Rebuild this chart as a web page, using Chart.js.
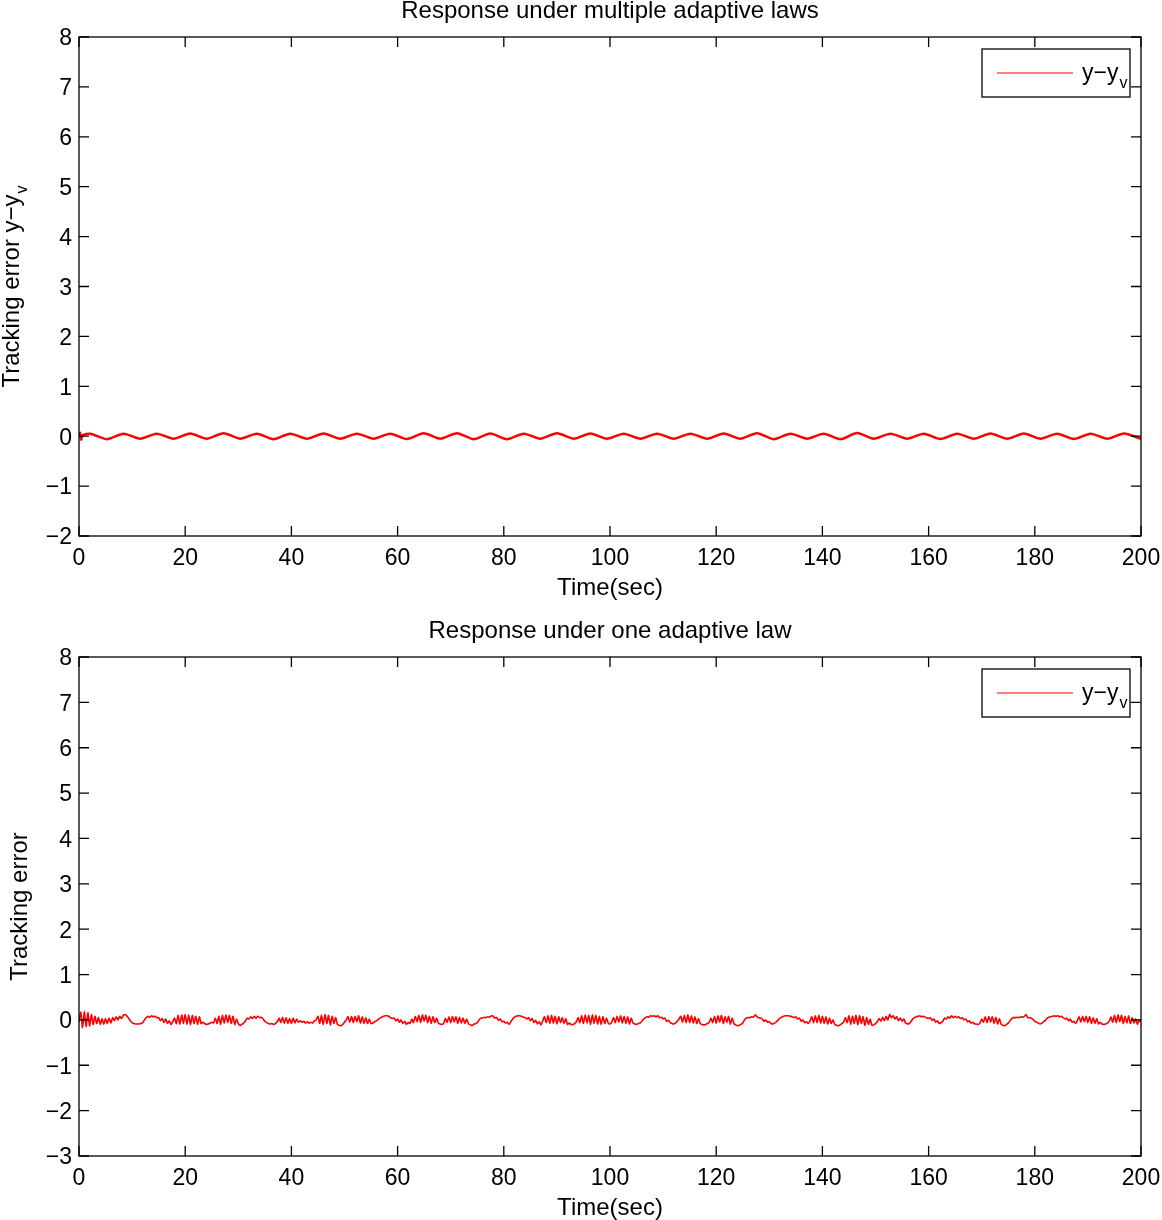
<!DOCTYPE html>
<html>
<head>
<meta charset="utf-8">
<script src="https://cdn.jsdelivr.net/npm/chart.js@4/dist/chart.umd.min.js"></script>
<style>
    body { margin: 0; background: #fff; }
    canvas { position: absolute; left: 0; }
    #chart-top { top: 0; }
    #chart-bottom { top: 610px; }
</style>
</head>
<body>
<canvas id="chart-top" width="1162" height="610"></canvas>
<canvas id="chart-bottom" width="1162" height="610"></canvas>
<script>
    const fontFamily = "'Liberation Sans', Arial, Helvetica, sans-serif";

    const xTicks = [0, 20, 40, 60, 80, 100, 120, 140, 160, 180, 200];
    const topYTicks = [-2, -1, 0, 1, 2, 3, 4, 5, 6, 7, 8];
    const bottomYTicks = [-3, -2, -1, 0, 1, 2, 3, 4, 5, 6, 7, 8];

    const topTitle = 'Response under multiple adaptive laws';
    const bottomTitle = 'Response under one adaptive law';
    const xTitle = 'Time(sec)';
    const seriesLabel = 'y\u2212y';
    const seriesSub = 'v';

    // multiple adaptive laws: turning points of the error wave
    const topTime = [0, 0.2, 0.4, 0.7,
        2.1, 5.24, 8.38, 11.52, 14.66, 17.8, 20.94, 24.08, 27.22, 30.36,
        33.5, 36.64, 39.78, 42.92, 46.06, 49.2, 52.34, 55.48, 58.62, 61.76,
        64.9, 68.04, 71.18, 74.32, 77.46, 80.6, 83.74, 86.88, 90.02, 93.16,
        96.3, 99.44, 102.58, 105.72, 108.86, 112, 115.14, 118.28, 121.42, 124.56,
        127.7, 130.84, 133.98, 137.12, 140.26, 143.4, 146.54, 149.68, 152.82, 155.96,
        159.1, 162.24, 165.38, 168.52, 171.66, 174.8, 177.94, 181.08, 184.22, 187.36,
        190.5, 193.64, 196.78, 199.92, 200];
    const topErr = [0, 0.07, -0.07, 0.02,
        0.05, -0.06, 0.05, -0.05, 0.05, -0.05, 0.055, -0.05, 0.06, -0.05,
        0.05, -0.06, 0.05, -0.05, 0.055, -0.05, 0.05, -0.05, 0.05, -0.055,
        0.06, -0.05, 0.06, -0.06, 0.055, -0.06, 0.05, -0.05, 0.06, -0.05,
        0.055, -0.05, 0.05, -0.05, 0.05, -0.05, 0.05, -0.05, 0.055, -0.05,
        0.06, -0.06, 0.05, -0.05, 0.05, -0.06, 0.065, -0.05, 0.05, -0.05,
        0.05, -0.055, 0.05, -0.05, 0.055, -0.05, 0.055, -0.05, 0.05, -0.055,
        0.05, -0.05, 0.055, -0.05, -0.03];

    // one adaptive law: sampled every 1/3 s from 0 to 200 s
    const bottomEnd = 200;
    const bottomErr = [
        -0.05, 0.17, -0.17, 0.18, -0.15, 0.16, -0.13, 0.12, -0.1, 0.08, -0.08, 0.05, -0.1, 0.03, -0.1, 0.03, -0.08, 0.04, -0.07, 0.05, -0.02, 0.07, 0.0, 0.08, 0.03, 0.1, 0.12, 0.09, 0.04, -0.02,
        -0.06, -0.08, -0.09, -0.09, -0.09, -0.08, -0.06, 0.0, 0.05, 0.08, 0.06, 0.09, 0.07, 0.08, 0.05, 0.05, -0.02, 0.03, -0.06, 0.02, -0.08, -0.02, -0.1, -0.04, 0.04, -0.08, 0.1, -0.1, 0.11, -0.08,
        0.12, -0.1, 0.11, -0.11, 0.1, -0.08, 0.08, -0.1, 0.07, -0.08, -0.05, -0.08, -0.1, -0.09, -0.07, -0.05, -0.07, 0.04, -0.08, 0.08, -0.1, 0.1, -0.07, 0.11, -0.06, 0.1, -0.08, 0.08, -0.1, 0.02,
        -0.08, -0.12, -0.1, -0.07, -0.03, 0.04, 0.02, 0.07, 0.03, 0.08, 0.04, 0.08, 0.05, 0.06, 0.02, -0.03, -0.06, -0.08, -0.09, -0.08, -0.1, -0.08, -0.04, 0.04, -0.06, 0.06, -0.08, 0.05, -0.08, 0.03,
        -0.08, 0.04, -0.07, 0.02, -0.05, -0.02, -0.05, -0.03, -0.07, -0.04, -0.07, -0.05, -0.07, -0.02, 0.0, 0.08, -0.08, 0.1, -0.1, 0.12, -0.08, 0.1, -0.11, 0.08, -0.08, 0.05, -0.1, -0.12, -0.13, -0.1,
        -0.05, 0.0, 0.07, -0.05, 0.08, -0.06, 0.08, -0.04, 0.09, -0.07, 0.07, -0.08, 0.05, -0.08, 0.02, -0.08, -0.07, -0.04, -0.02, 0.01, 0.04, 0.06, 0.08, 0.09, 0.09, 0.08, 0.05, 0.03, 0.04, -0.02,
        0.02, -0.05, 0.0, -0.08, -0.03, -0.1, -0.05, -0.08, 0.02, -0.06, 0.08, -0.04, 0.1, -0.06, 0.11, -0.03, 0.1, -0.06, 0.08, -0.08, 0.07, -0.06, 0.04, -0.07, -0.09, -0.1, -0.08, 0.03, -0.05, 0.07,
        -0.06, 0.08, -0.05, 0.07, -0.08, 0.06, -0.07, 0.04, -0.08, 0.02, -0.08, -0.11, -0.12, -0.1, -0.08, -0.06, 0.0, 0.04, 0.04, 0.06, 0.05, 0.07, 0.06, 0.09, 0.08, 0.04, 0.05, -0.01, 0.02, -0.04,
        -0.03, -0.07, -0.05, -0.1, -0.04, 0.02, 0.06, 0.08, 0.09, 0.09, 0.08, 0.06, 0.05, 0.02, 0.05, -0.02, 0.03, -0.06, -0.01, -0.09, -0.04, -0.11, -0.02, 0.07, -0.06, 0.09, -0.08, 0.1, -0.07, 0.08,
        -0.09, 0.07, -0.06, 0.05, -0.08, 0.03, -0.1, -0.07, -0.1, -0.1, -0.08, -0.04, 0.05, -0.06, 0.09, -0.08, 0.11, -0.07, 0.1, -0.1, 0.11, -0.08, 0.1, -0.09, 0.08, -0.1, 0.07, -0.08, 0.04, -0.07,
        -0.09, -0.05, 0.05, -0.06, 0.08, -0.05, 0.09, -0.07, 0.08, -0.08, 0.07, -0.09, 0.04, -0.07, -0.09, -0.1, -0.08, -0.07, -0.03, 0.02, 0.05, 0.07, 0.06, 0.09, 0.08, 0.09, 0.07, 0.09, 0.05, 0.06,
        0.02, 0.04, -0.03, -0.01, -0.06, -0.08, -0.09, -0.07, -0.03, 0.02, 0.08, -0.05, 0.1, -0.06, 0.11, -0.06, 0.09, -0.07, 0.07, -0.08, 0.03, -0.08, -0.1, -0.11, -0.1, -0.08, -0.06, 0.04, -0.06, 0.08,
        -0.07, 0.09, -0.05, 0.1, -0.08, 0.07, -0.06, 0.08, -0.09, 0.04, -0.08, -0.11, -0.13, -0.12, -0.1, -0.07, 0.0, 0.04, 0.05, 0.05, 0.07, 0.06, 0.11, 0.07, 0.05, 0.04, 0.02, -0.03, 0.0, -0.05,
        -0.04, -0.08, -0.09, -0.07, -0.04, 0.0, 0.04, 0.06, 0.08, 0.09, 0.09, 0.09, 0.08, 0.07, 0.05, 0.07, 0.02, 0.04, -0.03, 0.0, -0.06, -0.04, -0.08, -0.02, 0.07, -0.06, 0.09, -0.06, 0.1, -0.07,
        0.08, -0.08, 0.07, -0.09, 0.04, -0.08, 0.0, -0.1, -0.12, -0.13, -0.11, -0.08, -0.05, 0.05, -0.06, 0.09, -0.1, 0.08, -0.08, 0.1, -0.11, 0.09, -0.08, 0.07, -0.12, 0.05, -0.1, 0.02, -0.12, -0.11,
        -0.08, -0.04, 0.03, -0.03, 0.06, -0.02, 0.08, 0.0, 0.12, 0.05, 0.09, 0.02, 0.07, -0.02, 0.04, -0.03, 0.02, -0.07, -0.09, -0.08, -0.04, 0.02, 0.05, 0.07, 0.08, 0.09, 0.07, 0.08, 0.06, 0.05,
        0.03, 0.05, -0.01, 0.02, -0.05, -0.02, -0.08, -0.06, -0.03, 0.04, 0.02, 0.07, 0.04, 0.09, 0.05, 0.08, 0.05, 0.07, 0.03, 0.05, 0.0, 0.02, -0.04, -0.02, -0.07, -0.05, -0.09, -0.09, -0.1, -0.07,
        0.02, -0.05, 0.07, -0.06, 0.08, -0.05, 0.07, -0.08, 0.06, -0.09, 0.03, -0.1, -0.12, -0.13, -0.1, -0.07, -0.02, 0.03, 0.05, 0.05, 0.06, 0.05, 0.07, 0.06, 0.07, 0.12, 0.05, 0.05, 0.04, 0.01,
        -0.03, -0.05, -0.07, -0.09, -0.07, -0.04, -0.01, 0.04, 0.06, 0.07, 0.08, 0.09, 0.08, 0.09, 0.07, 0.08, 0.05, 0.02, 0.04, -0.02, 0.02, -0.05, -0.03, -0.08, -0.02, 0.07, -0.05, 0.08, -0.04, 0.08,
        -0.06, 0.07, -0.08, 0.05, -0.08, 0.03, -0.09, -0.05, -0.09, -0.1, -0.09, -0.07, -0.03, 0.07, -0.05, 0.1, -0.06, 0.11, -0.04, 0.1, -0.08, 0.08, -0.07, 0.09, -0.08, 0.05, -0.07, 0.02, -0.1, 0.0, -0.05
    ];

    // box, inward ticks, titles and legend the way matlab draws them
    const matlabAxes = {
        id: 'matlabAxes',
        afterDraw(chart, args, opts) {
            const {ctx, chartArea: a, scales: {x, y}} = chart;
            ctx.save();
            ctx.strokeStyle = '#000';
            ctx.lineWidth = 1.3;
            ctx.strokeRect(a.left, a.top, a.right - a.left, a.bottom - a.top);

            ctx.beginPath();
            x.ticks.forEach((t) => {
                const px = x.getPixelForValue(t.value);
                ctx.moveTo(px, a.bottom); ctx.lineTo(px, a.bottom - 10);
                ctx.moveTo(px, a.top); ctx.lineTo(px, a.top + 10);
            });
            y.ticks.forEach((t) => {
                const py = y.getPixelForValue(t.value);
                ctx.moveTo(a.left, py); ctx.lineTo(a.left + 10, py);
                ctx.moveTo(a.right, py); ctx.lineTo(a.right - 10, py);
            });
            ctx.stroke();

            // chart title, centred over the axes
            ctx.fillStyle = '#000';
            ctx.font = '24px ' + fontFamily;
            ctx.textAlign = 'center';
            ctx.textBaseline = 'middle';
            ctx.fillText(opts.title, (a.left + a.right) / 2, opts.titleY);

            // legend
            const lx = a.right - 159, ly = a.top + 12;
            ctx.fillStyle = '#fff';
            ctx.fillRect(lx, ly, 148, 48);
            ctx.strokeRect(lx, ly, 148, 48);
            ctx.strokeStyle = chart.data.datasets[0].borderColor;
            ctx.lineWidth = 1.2;
            ctx.beginPath();
            ctx.moveTo(lx + 15, ly + 24);
            ctx.lineTo(lx + 91, ly + 24);
            ctx.stroke();
            ctx.fillStyle = '#000';
            ctx.textBaseline = 'alphabetic';
            ctx.textAlign = 'left';
            ctx.font = '23px ' + fontFamily;
            ctx.fillText(seriesLabel, lx + 100, ly + 31);
            const lw = ctx.measureText(seriesLabel).width;
            ctx.font = '16px ' + fontFamily;
            ctx.fillText(seriesSub, lx + 101 + lw, ly + 39);

            // y title, rotated, with optional subscript
            ctx.translate(opts.yTitleX, (a.top + a.bottom) / 2);
            ctx.rotate(-Math.PI / 2);
            ctx.font = '24px ' + fontFamily;
            const mw = ctx.measureText(opts.yTitle).width;
            let sw = 0;
            if (opts.ySub) {
                ctx.font = '16px ' + fontFamily;
                sw = ctx.measureText(opts.ySub).width + 1;
            }
            const start = -(mw + sw) / 2;
            ctx.font = '24px ' + fontFamily;
            ctx.fillText(opts.yTitle, start, 0);
            if (opts.ySub) {
                ctx.font = '16px ' + fontFamily;
                ctx.fillText(opts.ySub, start + mw + 1, 8);
            }
            ctx.restore();
        }
    };

    function makeChart(canvasId, cfg)
    {
        const yTicks = cfg.yTicks;
        new Chart(document.getElementById(canvasId), {
            type: 'line',
            data: {
                datasets: [{
                    label: seriesLabel + seriesSub,
                    data: cfg.points,
                    borderColor: '#ff0000',
                    borderWidth: cfg.lineWidth,
                    pointRadius: 0,
                    tension: cfg.tension,
                    fill: false
                }]
            },
            options: {
                responsive: false,
                animation: false,
                events: [],
                layout: {
                    padding: { left: 0, right: 21, top: cfg.plotTop, bottom: 0 }
                },
                plugins: {
                    legend: { display: false },
                    tooltip: { enabled: false },
                    title: { display: false },
                    matlabAxes: {
                        title: cfg.title,
                        titleY: cfg.titleY,
                        yTitle: cfg.yTitle,
                        ySub: cfg.ySub,
                        yTitleX: cfg.yTitleX
                    }
                },
                scales: {
                    x: {
                        type: 'linear',
                        min: xTicks[0],
                        max: xTicks[xTicks.length - 1],
                        grid: { display: false, drawTicks: false },
                        border: { display: false },
                        afterBuildTicks: (scale) => { scale.ticks = xTicks.map(v => ({ value: v })); },
                        afterFit: (scale) => {
                            scale.height = cfg.xHeight;
                            scale.paddingLeft = 0;
                            scale.paddingRight = 0;
                        },
                        ticks: {
                            color: '#000',
                            padding: 11.5,
                            maxRotation: 0,
                            autoSkip: false,
                            font: { family: fontFamily, size: 23, lineHeight: 1 }
                        },
                        title: {
                            display: true,
                            text: xTitle,
                            color: '#000',
                            padding: { top: 0, bottom: cfg.xTitlePad },
                            font: { family: fontFamily, size: 24, lineHeight: 1 }
                        }
                    },
                    y: {
                        type: 'linear',
                        min: yTicks[0],
                        max: yTicks[yTicks.length - 1],
                        grid: { display: false, drawTicks: false },
                        border: { display: false },
                        afterBuildTicks: (scale) => { scale.ticks = yTicks.map(v => ({ value: v })); },
                        afterFit: (scale) => { scale.width = 79; },
                        ticks: {
                            color: '#000',
                            padding: 7,
                            labelOffset: 2,
                            font: { family: fontFamily, size: 23, lineHeight: 1 },
                            callback: (v) => v < 0 ? '\u2212' + Math.abs(v) : String(v)
                        }
                    }
                }
            },
            plugins: [matlabAxes]
        });
    }

    document.addEventListener("DOMContentLoaded", () => {
        const topPoints = topTime.map((t, i) => ({ x: t, y: topErr[i] }));
        const step = bottomEnd / (bottomErr.length - 1);
        const bottomPoints = bottomErr.map((v, i) => ({ x: i * step, y: v }));

        makeChart('chart-top', {
            title: topTitle,
            titleY: 11,
            plotTop: 37,
            points: topPoints,
            yTicks: topYTicks,
            tension: 0.25,
            lineWidth: 2.4,
            xHeight: 74,
            xTitlePad: 10,
            yTitle: 'Tracking error ' + seriesLabel,
            ySub: seriesSub,
            yTitleX: 18.5
        });

        makeChart('chart-bottom', {
            title: bottomTitle,
            titleY: 21,
            plotTop: 47,
            points: bottomPoints,
            yTicks: bottomYTicks,
            tension: 0.2,
            lineWidth: 1.6,
            xHeight: 64,
            xTitlePad: 0,
            yTitle: 'Tracking error',
            ySub: '',
            yTitleX: 27
        });
    });
</script>
</body>
</html>
